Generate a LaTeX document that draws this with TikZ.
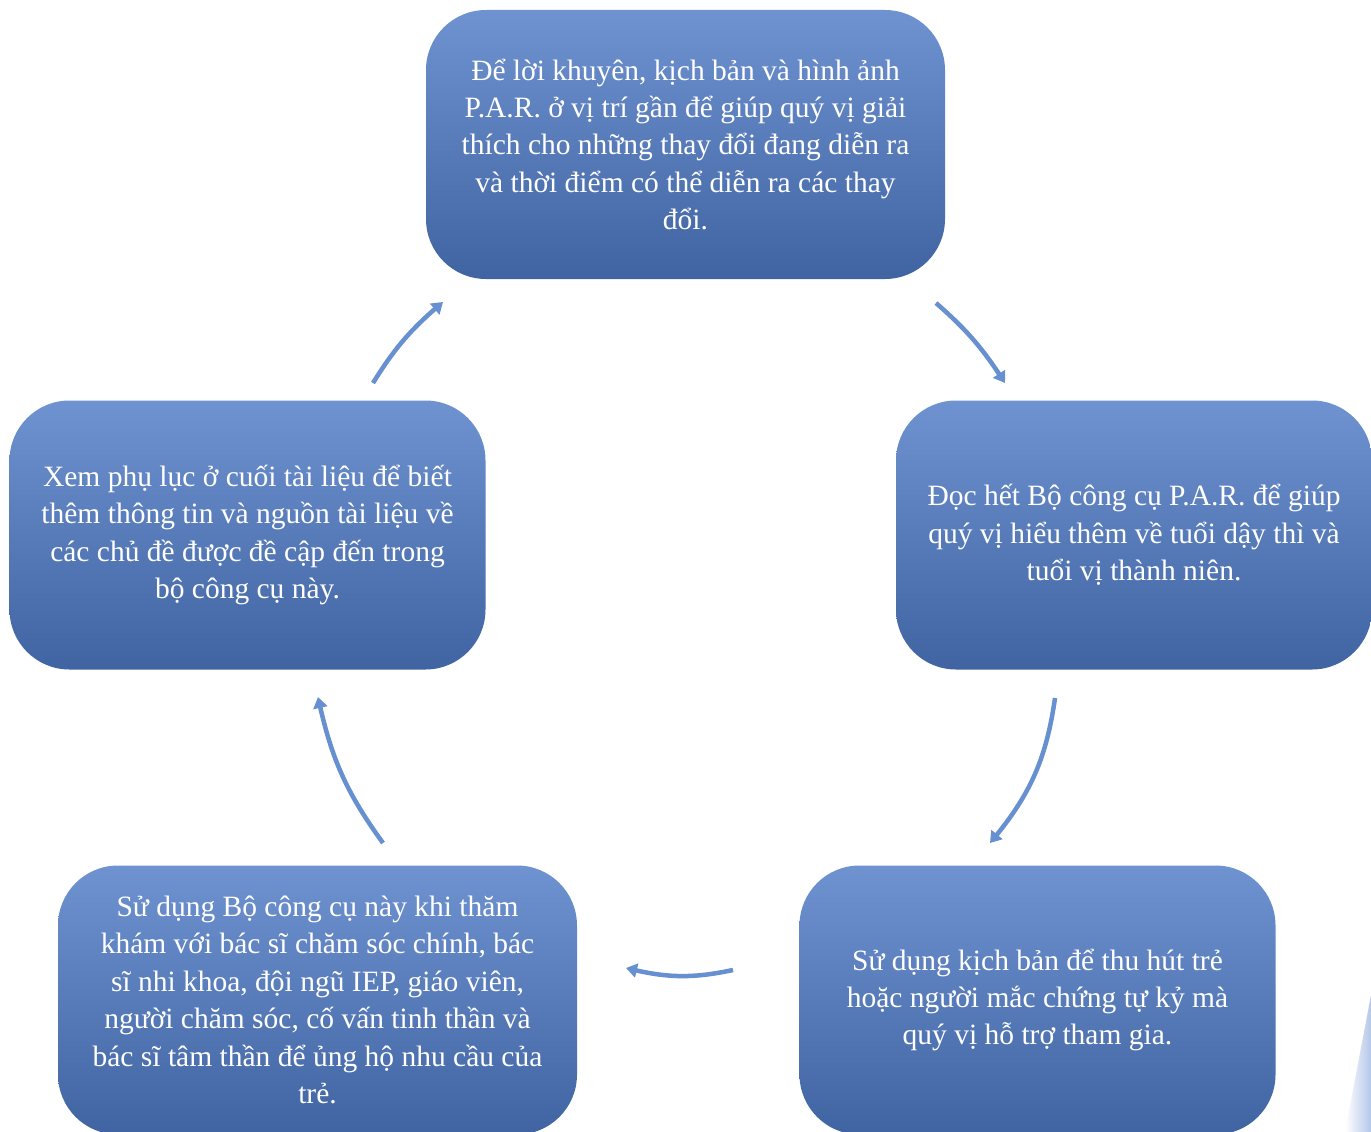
\documentclass[tikz,border=0pt]{standalone}
\usepackage{fontspec}
\setmainfont{Liberation Serif}
\usetikzlibrary{arrows.meta,bending}
\definecolor{boxtop}{HTML}{6F93D0}
\definecolor{boxbot}{HTML}{4063A1}
\definecolor{arr}{HTML}{6790D0}
\definecolor{streak}{HTML}{B4C6E8}
\begin{document}
\begin{tikzpicture}[x=1pt,y=-1pt,
  box/.style={rounded corners=60pt, top color=boxtop, bottom color=boxbot,
    draw=none, text=white, align=center, inner sep=0pt,
    font=\fontsize{29.5}{37.4}\selectfont},
  wide/.style={minimum width=519pt, minimum height=269pt},
  narrow/.style={minimum width=476pt, minimum height=269pt},
  flow/.style={draw=arr, line width=4.5pt, -{Triangle[width=14pt,length=11pt]}}]
\useasboundingbox (0,0) rectangle (1371,1132);
\clip (0,0) rectangle (1371,1132);
\fill[white] (0,0) rectangle (1371,1132);

\node[box, wide] (top) at (685.5,144.5) {Để lời khuyên, kịch bản và hình ảnh\\P.A.R. ở vị trí gần để giúp quý vị giải\\thích cho những thay đổi đang diễn ra\\và thời điểm có thể diễn ra các thay\\đổi.};
\node[box, narrow] (right) at (1134,535) {Đọc hết Bộ công cụ P.A.R. để giúp\\quý vị hiểu thêm về tuổi dậy thì và\\tuổi vị thành niên.};
\node[box, narrow] (bright) at (1037.5,1000) {Sử dụng kịch bản để thu hút trẻ\\hoặc người mắc chứng tự kỷ mà\\quý vị hỗ trợ tham gia.};
\node[box, wide] (bleft) at (317.5,1000) {Sử dụng Bộ công cụ này khi thăm\\khám với bác sĩ chăm sóc chính, bác\\sĩ nhi khoa, đội ngũ IEP, giáo viên,\\người chăm sóc, cố vấn tinh thần và\\bác sĩ tâm thần để ủng hộ nhu cầu của\\trẻ.};
\node[box, narrow] (left) at (247.5,535) {Xem phụ lục ở cuối tài liệu để biết\\thêm thông tin và nguồn tài liệu về\\các chủ đề được đề cập đến trong\\bộ công cụ này.};

\coordinate (a1s) at (936,303);  \coordinate (a1e) at (1005,383);
\coordinate (a2s) at (1055,698); \coordinate (a2e) at (990,843);
\coordinate (a3s) at (733,970);  \coordinate (a3e) at (626,968);
\coordinate (a4s) at (383,843);  \coordinate (a4e) at (318,697);
\coordinate (a5s) at (373,383);  \coordinate (a5e) at (443,302);

\draw[flow] (a1s) to[bend left=8] (a1e);
\draw[flow] (a2s) to[bend left=16] (a2e);
\draw[flow] (a3s) to[bend left=13] (a3e);
\draw[flow] (a4s) to[bend left=12] (a4e);
\draw[flow] (a5s) to[bend left=9] (a5e);

\shade[left color=white, right color=streak] (1371,995) -- (1371,1132) -- (1345,1132) -- cycle;
\end{tikzpicture}
\end{document}
